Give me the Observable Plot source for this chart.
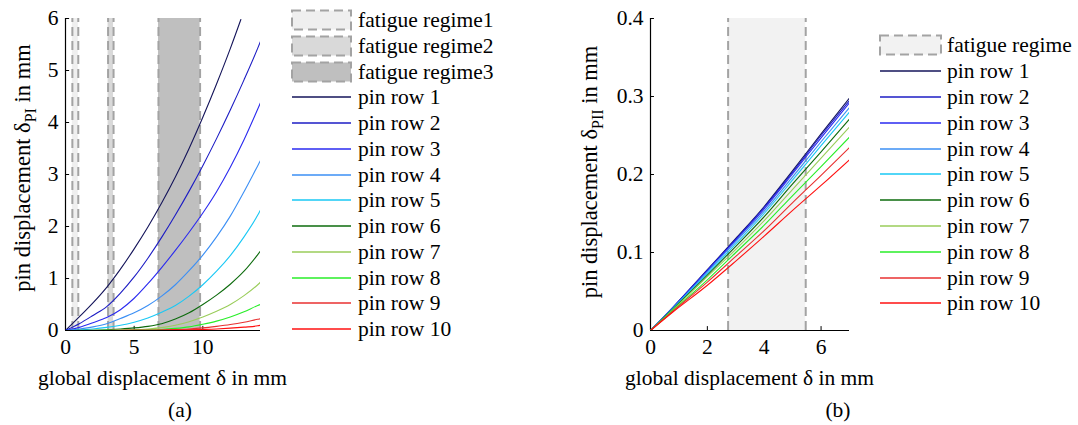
<!DOCTYPE html>
<html><head><meta charset="utf-8">
<script src="https://cdn.jsdelivr.net/npm/d3@7"></script>
<script src="https://cdn.jsdelivr.net/npm/@observablehq/plot@0.6"></script>
<style>
body{margin:0;background:#fff;width:1078px;height:425px;overflow:hidden;font-family:"Liberation Serif","Times New Roman",serif;color:#000;}
#wrap{position:relative;width:1078px;height:425px;}
.panel{position:absolute;top:0;}
.lg{position:absolute;font-size:21.5px;line-height:22px;white-space:nowrap;}
.lg svg{position:absolute;left:0;top:0;overflow:visible;}
.lg span{position:absolute;top:-11px;}
.cap{position:absolute;font-size:21.5px;transform:translate(-50%,-50%);}
</style></head><body><div id="wrap"></div>
<script>
// ---------- shared ----------
const pinRows = ["pin row 1","pin row 2","pin row 3","pin row 4","pin row 5","pin row 6","pin row 7","pin row 8","pin row 9","pin row 10"];
const rowColors = ["#14145a","#1c1cc4","#2a2af0","#3b8ff5","#19c8f5","#0d6b0d","#9acd5a","#28ee28","#e83030","#ff1010"];

// ---------- panel (a) ----------
const xA = [0,1,2,3,4,5,6,7,8,9,10,11,12,13,14,14.2];
const xA1 = [0,1,2,3,4,5,6,7,8,9,10,11,12,12.77];
const aRow1 = [0,0.26,0.53,0.83,1.18,1.57,1.99,2.45,2.95,3.5,4.1,4.74,5.42,5.98];
const aRow2 = [0,0.13,0.29,0.46,0.72,1.03,1.39,1.79,2.22,2.68,3.17,3.69,4.24,4.82,5.43,5.56];
const aRow3 = [0,0.06,0.15,0.25,0.4,0.62,0.9,1.21,1.54,1.89,2.26,2.67,3.14,3.67,4.26,4.38];
const aRow4 = [0,0.03,0.07,0.13,0.23,0.34,0.48,0.66,0.88,1.15,1.45,1.8,2.2,2.67,3.17,3.27];
const aRow5 = [0,0.01,0.03,0.06,0.1,0.16,0.24,0.35,0.48,0.66,0.88,1.14,1.44,1.8,2.22,2.32];
const aRow6 = [0,0.002,0.005,0.015,0.03,0.05,0.08,0.13,0.22,0.34,0.5,0.68,0.89,1.14,1.46,1.53];
const aRow7 = [0,0.001,0.002,0.004,0.008,0.015,0.03,0.055,0.1,0.17,0.26,0.37,0.5,0.67,0.88,0.93];
const aRow8 = [0,0,0.001,0.002,0.004,0.007,0.012,0.02,0.04,0.07,0.12,0.18,0.26,0.36,0.48,0.5];
const aRow9 = [0,0,0,0.001,0.002,0.003,0.005,0.01,0.018,0.03,0.05,0.08,0.115,0.16,0.215,0.225];
const aRow10 = [0,0,0,0,0.001,0.002,0.003,0.005,0.008,0.012,0.02,0.03,0.045,0.065,0.09,0.1];
const regimeNamesA = ["fatigue regime1","fatigue regime2","fatigue regime3"];
const regimeStartA = [0.5,3.1,6.77];
const regimeEndA = [0.93,3.5,9.8];
const regimeFillA = ["#efefef","#d9d9d9","#bfbfbf"];
const xTicksA = [0,5,10];
const yTicksA = [0,1,2,3,4,5,6];

// ---------- panel (b) ----------
const xB = [0,0.8,2,3,4,5,6,7];
const bRow1 = [0,0.030,0.078,0.118,0.159,0.205,0.252,0.298];
const bRow2 = [0,0.030,0.077,0.117,0.158,0.203,0.250,0.295];
const bRow3 = [0,0.030,0.077,0.116,0.156,0.201,0.247,0.292];
const bRow4 = [0,0.029,0.075,0.114,0.153,0.197,0.242,0.286];
const bRow5 = [0,0.029,0.073,0.111,0.150,0.193,0.237,0.280];
const bRow6 = [0,0.028,0.071,0.108,0.146,0.188,0.229,0.271];
const bRow7 = [0,0.027,0.069,0.104,0.141,0.181,0.221,0.261];
const bRow8 = [0,0.026,0.065,0.100,0.135,0.173,0.210,0.248];
const bRow9 = [0,0.025,0.062,0.095,0.128,0.164,0.199,0.2345];
const bRow10 = [0,0.024,0.058,0.089,0.121,0.154,0.186,0.219];
const regimeNamesB = ["fatigue regime"];
const regimeStartB = [2.73];
const regimeEndB = [5.46];
const regimeFillB = ["#f2f2f2"];
const xTicksB = [0,2,4,6];
const yTicksB = [0,0.1,0.2,0.3,0.4];

// ---------- build tables ----------
const rowsA = [aRow1,aRow2,aRow3,aRow4,aRow5,aRow6,aRow7,aRow8,aRow9,aRow10];
const rowsB = [bRow1,bRow2,bRow3,bRow4,bRow5,bRow6,bRow7,bRow8,bRow9,bRow10];
const lineA = rowsA.flatMap((vals,i)=>vals.map((y,j)=>({row:pinRows[i], x:(i===0?xA1:xA)[j], y})));
const lineB = rowsB.flatMap((vals,i)=>vals.map((y,j)=>({row:pinRows[i], x:xB[j], y})));

const FONT = "'Liberation Serif','Times New Roman',serif";
const FS = 21.5;
const EDGE = "#a3a3a3";

function panel({xDomain,yDomain,xTicks,yTicks,yFmt,starts,ends,fills,lines,width,mL,mR,xTickLen,yTickLen}) {
  const regMarks = starts.map((s,i)=>Plot.rect([{s, e:ends[i]}], {x1:"s", x2:"e", y1:yDomain[0], y2:yDomain[1], fill:fills[i]}));
  const edges = starts.flatMap((s,i)=>[s, ends[i]]);
  return Plot.plot({
    width, height:395, marginLeft:mL, marginRight:mR, marginTop:18, marginBottom:65,
    x:{domain:xDomain}, y:{domain:yDomain},
    color:{domain:pinRows, range:rowColors},
    style:{fontFamily:FONT, fontSize:FS+"px", color:"#000", background:"transparent", overflow:"visible"},
    marks:[
      Plot.ruleX([xDomain[0]], {stroke:"#000", strokeWidth:1.2}),
      Plot.ruleY([yDomain[0]], {stroke:"#000", strokeWidth:1.2}),
      Plot.ruleX(xTicks, {y1:yDomain[0], y2:yDomain[0]+xTickLen, stroke:"#000"}),
      Plot.ruleY(yTicks, {x1:xDomain[0], x2:xDomain[0]+yTickLen, stroke:"#000"}),
      ...regMarks,
      Plot.ruleX(edges, {y1:yDomain[0], y2:yDomain[1], stroke:EDGE, strokeWidth:2, strokeDasharray:"9,5"}),
      Plot.line(lines, {x:"x", y:"y", z:"row", stroke:"row", strokeWidth:1.1, curve:"monotone-x", clip:true}),
      Plot.axisX({ticks:xTicks, tickSize:0, tickPadding:8, tickFormat:d=>String(d), label:null, fontSize:FS}),
      Plot.axisY({ticks:yTicks, tickSize:0, tickPadding:7, tickFormat:yFmt, label:null, fontSize:FS})
    ]
  });
}

const wrap = document.getElementById("wrap");

function addLabels(svg, xc, yc, xlabelX, sub) {
  const s = d3.select(svg);
  s.append("text").attr("x", xlabelX).attr("y", 377).attr("text-anchor","middle").attr("dy","0.35em")
    .style("font-family",FONT).style("font-size",FS+"px").attr("fill","#000").text("global displacement δ in mm");
  const t = s.append("text").attr("transform",`translate(${xc},${yc}) rotate(-90)`).attr("text-anchor","middle").attr("dy","0.35em")
    .style("font-family",FONT).style("font-size","22.5px").attr("fill","#000");
  t.append("tspan").text("pin displacement δ");
  t.append("tspan").attr("dy","6").style("font-size","16px").text(sub);
  t.append("tspan").attr("dy","-6").text(" in mm");
}

const svgA = panel({xDomain:[0,14.2], yDomain:[0,6], xTicks:xTicksA, yTicks:yTicksA, yFmt:d=>String(d),
  starts:regimeStartA, ends:regimeEndA, fills:regimeFillA, lines:lineA, width:270, mL:65, mR:10, xTickLen:0.08, yTickLen:0.3});
svgA.classList.add("panel"); svgA.style.left = "0px";
wrap.appendChild(svgA);
addLabels(svgA, 22, 168, 162.5, "PI");

const svgB = panel({xDomain:[0,7], yDomain:[0,0.4], xTicks:xTicksB, yTicks:yTicksB, yFmt:d=>d===0?"0":d.toFixed(1),
  starts:regimeStartB, ends:regimeEndB, fills:regimeFillB, lines:lineB, width:300, mL:90, mR:11, xTickLen:0.005, yTickLen:0.14});
svgB.classList.add("panel"); svgB.style.left = "560px";
wrap.appendChild(svgB);
addLabels(svgB, 29, 172, 189.5, "PII");

// ---------- legends ----------
function legend(left, top0, step, swW, textOff, regNames, regFills) {
  const items = [...regNames.map((n,i)=>({n, type:"patch", c:regFills[i]})), ...pinRows.map((n,i)=>({n, type:"line", c:rowColors[i]}))];
  items.forEach((it,i)=>{
    const d = document.createElement("div");
    d.className = "lg";
    d.style.left = left+"px"; d.style.top = (top0 + i*step)+"px";
    let sw;
    if (it.type==="patch") sw = `<svg width="${swW}" height="20"><rect x="0" y="-9.5" width="${swW}" height="19" fill="${it.c}" stroke="${EDGE}" stroke-width="2" stroke-dasharray="9,5"/></svg>`;
    else sw = `<svg width="${swW}" height="2"><line x1="0" x2="${swW}" y1="0" y2="0" stroke="${it.c}" stroke-width="1.6"/></svg>`;
    d.innerHTML = sw + `<span style="left:${textOff}px">${it.n}</span>`;
    wrap.appendChild(d);
  });
}
legend(292, 20, 25.75, 59, 66, regimeNamesA, regimeFillA);
legend(880, 45.3, 25.8, 61, 67, regimeNamesB, regimeFillB);

// captions
[["(a)",180],["(b)",838]].forEach(([t,x])=>{
  const c = document.createElement("div"); c.className="cap"; c.style.left=x+"px"; c.style.top="410px"; c.textContent=t; wrap.appendChild(c);
});
</script>
</body></html>
